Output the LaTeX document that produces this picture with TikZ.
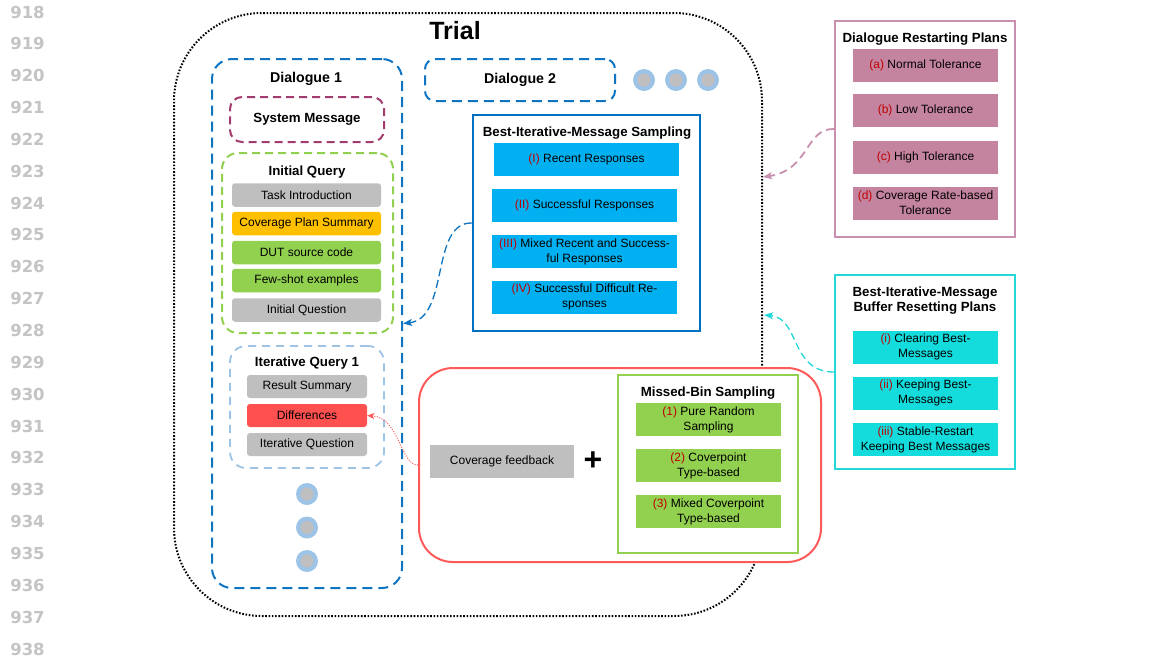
\documentclass[tikz,border=0pt]{standalone}
\usepackage{fontspec}
\setmainfont{Liberation Sans}
\newfontfamily\numfont{DejaVu Sans}
\usetikzlibrary{arrows.meta}
\definecolor{dblue}{HTML}{0F74C2}
\definecolor{bimsborder}{HTML}{0070C0}
\definecolor{bimsfill}{HTML}{00B0F0}
\definecolor{maroon}{HTML}{A23C6E}
\definecolor{lgreen}{HTML}{92D050}
\definecolor{lblue}{HTML}{9DC3E6}
\definecolor{gfill}{HTML}{BFBFBF}
\definecolor{orangef}{HTML}{FFC000}
\definecolor{redf}{HTML}{FF5050}
\definecolor{redbox}{HTML}{FF5A5A}
\definecolor{labred}{HTML}{C00000}
\definecolor{mauveb}{HTML}{C890AE}
\definecolor{mauvef}{HTML}{C4849F}
\definecolor{cyanb}{HTML}{22D8D8}
\definecolor{cyanf}{HTML}{14DCDC}
\definecolor{numgray}{HTML}{C4C4C4}
\begin{document}
\begin{tikzpicture}[x=1pt,y=-1pt,
  lnum/.style={font=\numfont\bfseries\fontsize{16.5}{18}\selectfont, text=numgray, inner sep=0pt},
  ttl/.style={font=\bfseries\fontsize{13.3}{15.5}\selectfont, inner sep=0pt, align=center},
  itm/.style={rectangle, inner sep=0pt, align=center, font=\fontsize{12}{15}\selectfont, text=black},
  ritm/.style={itm, rounded corners=3pt},
  dlgbox/.style={draw=dblue, line width=2pt, dash pattern=on 10pt off 6pt, rounded corners=20pt, rectangle, inner sep=0pt},
  subbox/.style={line width=2pt, dash pattern=on 8pt off 5pt, rounded corners=16pt, rectangle, inner sep=0pt},
  solidbox/.style={rectangle, inner sep=0pt},
  dot/.style={circle, fill=lblue, minimum size=22pt, inner sep=0pt,
    path picture={\fill[gfill] (path picture bounding box.center) circle[radius=6.5pt];}},
  tip/.style={-{Stealth[length=9pt,width=7pt,inset=2pt]}}
]
\useasboundingbox (0,0) rectangle (1150,657);
\fill[white] (0,0) rectangle (1150,657);

% line numbers
\foreach \n [count=\i from 0] in {918,...,938}
  \node[lnum] (ln\n) at ({27.5},{12+\i*31.85}) {\n};

% Trial
\node[rectangle, draw=black, line width=2pt, dash pattern=on 1.6pt off 1.7pt, rounded corners=88pt,
      minimum width=588pt, minimum height=603pt, inner sep=0pt] (trialbox) at (468,314.5) {};
\node[font=\bfseries\fontsize{25}{30}\selectfont, inner sep=0pt] (trial) at (455,31) {Trial};

% Dialogue 1
\node[dlgbox, minimum width=190pt, minimum height=529pt] (dlg1) at (307,323.5) {};
\node[ttl, font=\bfseries\fontsize{14.2}{16}\selectfont] (dlg1t) at (306,79) {Dialogue 1};

\node[subbox, draw=maroon, rounded corners=12pt, minimum width=154pt, minimum height=45pt,
      font=\bfseries\fontsize{13.3}{15}\selectfont] (sysmsg) at (307,119.5) {System Message};

\node[subbox, draw=lgreen, minimum width=171pt, minimum height=180pt] (iq) at (307.5,243) {};
\node[ttl] (iqt) at (307,172) {Initial Query};
\node[ritm, fill=gfill, minimum width=149pt, minimum height=23.5pt] (task) at (306.5,195) {Task Introduction};
\node[ritm, fill=orangef, minimum width=149pt, minimum height=23.5pt] (cps) at (306.5,223.5) {Coverage Plan Summary};
\node[ritm, fill=lgreen, minimum width=149pt, minimum height=23.5pt] (dut) at (306.5,252.5) {DUT source code};
\node[ritm, fill=lgreen, minimum width=149pt, minimum height=23.5pt] (few) at (306.5,280.5) {Few-shot examples};
\node[ritm, fill=gfill, minimum width=149pt, minimum height=23.5pt] (iques) at (306.5,310) {Initial Question};

\node[subbox, draw=lblue, line width=1.8pt, dash pattern=on 8pt off 6pt, minimum width=154pt, minimum height=122pt] (itq) at (307,407) {};
\node[ttl] (itqt) at (307,363) {Iterative Query 1};
\node[ritm, fill=gfill, minimum width=120pt, minimum height=23pt] (rsum) at (307,386.5) {Result Summary};
\node[ritm, fill=redf, minimum width=120pt, minimum height=23pt] (diff) at (307,415.5) {Differences};
\node[ritm, fill=gfill, minimum width=120pt, minimum height=23pt] (itques) at (307,444.5) {Iterative Question};

\node[dot] (vd1) at (307,494) {};
\node[dot] (vd2) at (307,527.5) {};
\node[dot] (vd3) at (307,561) {};

% Dialogue 2
\node[dlgbox, rounded corners=10pt, minimum width=190pt, minimum height=42pt,
      font=\bfseries\fontsize{14.2}{16}\selectfont] (dlg2) at (520,80) {Dialogue 2};
\node[dot] (hd1) at (644,80) {};
\node[dot] (hd2) at (676,80) {};
\node[dot] (hd3) at (708,80) {};

% Best-Iterative-Message Sampling
\node[solidbox, draw=bimsborder, line width=2.5pt, minimum width=227pt, minimum height=216pt] (bims) at (586.5,223) {};
\node[ttl] (bimst) at (587,133) {Best-Iterative-Message Sampling};
\node[itm, fill=bimsfill, minimum width=185pt, minimum height=33pt] (bimsA) at (586.5,159.5) {\textcolor{labred}{(I)} Recent Responses};
\node[itm, fill=bimsfill, minimum width=185pt, minimum height=33pt] (bimsB) at (584.5,205.5) {\textcolor{labred}{(II)} Successful Responses};
\node[itm, fill=bimsfill, minimum width=185pt, minimum height=33pt] (bimsC) at (584.5,251.5) {\textcolor{labred}{(III)} Mixed Recent and Success-\\ful Responses};
\node[itm, fill=bimsfill, minimum width=185pt, minimum height=33pt] (bimsD) at (584.5,297) {\textcolor{labred}{(IV)} Successful Difficult Re-\\sponses};

% Red box: coverage feedback + missed-bin sampling
\node[rectangle, draw=redbox, fill=white, line width=2pt, rounded corners=34pt, minimum width=402pt, minimum height=194pt, inner sep=0pt] (redb) at (620,465) {};
\node[itm, fill=gfill, minimum width=144pt, minimum height=33pt] (covfb) at (502,461.5) {Coverage feedback};
\node[font=\bfseries\fontsize{32}{32}\selectfont, inner sep=0pt] (plus) at (593,461) {+};
\node[solidbox, draw=lgreen, line width=2pt, minimum width=180pt, minimum height=178pt] (mbs) at (708,464) {};
\node[ttl] (mbst) at (708,393) {Missed-Bin Sampling};
\node[itm, fill=lgreen, minimum width=145pt, minimum height=33pt] (mbsA) at (708.5,419.5) {\textcolor{labred}{(1)} Pure Random\\Sampling};
\node[itm, fill=lgreen, minimum width=145pt, minimum height=33pt] (mbsB) at (708.5,465.5) {\textcolor{labred}{(2)} Coverpoint\\Type-based};
\node[itm, fill=lgreen, minimum width=145pt, minimum height=33pt] (mbsC) at (708.5,511.5) {\textcolor{labred}{(3)} Mixed Coverpoint\\Type-based};

% Dialogue Restarting Plans
\node[solidbox, draw=mauveb, line width=2pt, minimum width=180pt, minimum height=216pt] (drp) at (925,129) {};
\node[ttl] (drpt) at (925,39) {Dialogue Restarting Plans};
\node[itm, fill=mauvef, minimum width=145pt, minimum height=33pt] (drpA) at (925.5,65) {\textcolor{labred}{(a)} Normal Tolerance};
\node[itm, fill=mauvef, minimum width=145pt, minimum height=33pt] (drpB) at (925.5,110.5) {\textcolor{labred}{(b)} Low Tolerance};
\node[itm, fill=mauvef, minimum width=145pt, minimum height=33pt] (drpC) at (925.5,157) {\textcolor{labred}{(c)} High Tolerance};
\node[itm, fill=mauvef, minimum width=145pt, minimum height=33pt] (drpD) at (925.5,203) {\textcolor{labred}{(d)} Coverage Rate-based\\Tolerance};

% Buffer Resetting Plans
\node[solidbox, draw=cyanb, line width=2pt, minimum width=180pt, minimum height=194pt] (brp) at (925,372) {};
\node[ttl] (brpt) at (925,300.5) {Best-Iterative-Message\\Buffer Resetting Plans};
\node[itm, fill=cyanf, minimum width=145pt, minimum height=33pt] (brpA) at (925.5,347) {\textcolor{labred}{(i)} Clearing Best-\\Messages};
\node[itm, fill=cyanf, minimum width=145pt, minimum height=33pt] (brpB) at (925.5,393) {\textcolor{labred}{(ii)} Keeping Best-\\Messages};
\node[itm, fill=cyanf, minimum width=145pt, minimum height=33pt] (brpC) at (925.5,439.5) {\textcolor{labred}{(iii)} Stable-Restart\\Keeping Best Messages};

% connectors
\coordinate (trialA) at (763,177);
\coordinate (trialB) at (764,315);
\draw[dblue, line width=1.3pt, dash pattern=on 8pt off 4pt, tip]
  (bims.west) .. controls (430,222) and (450,318) .. (dlg1.east);
\draw[mauveb, line width=1.8pt, dash pattern=on 8pt off 5pt, tip]
  (drp.west) .. controls (805,128) and (810,170) .. (trialA);
\draw[cyanb, line width=1.3pt, dash pattern=on 7pt off 4pt, tip]
  (brp.west) .. controls (790,372) and (800,318) .. (trialB);
\draw[redbox, line width=1pt, dash pattern=on 1pt off 1.5pt, -{Stealth[length=7pt,width=6pt,inset=1.5pt]}]
  (redb.west) .. controls (400,465) and (400,418) .. (diff.east);
\end{tikzpicture}
\end{document}
